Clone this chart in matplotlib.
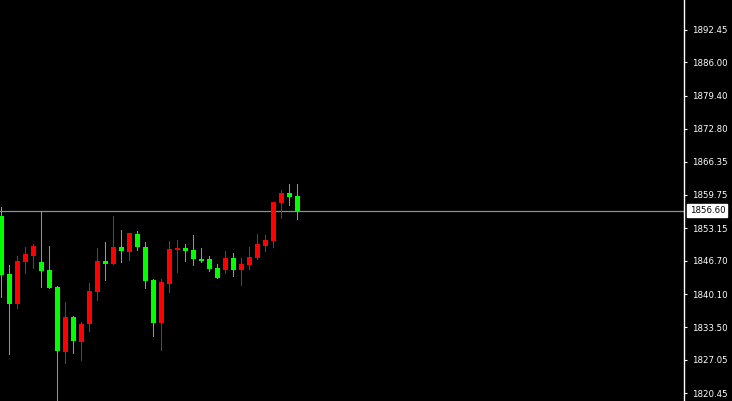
import matplotlib
matplotlib.use("Agg")
import matplotlib.pyplot as plt
import numpy as np

# candle data (oldest first)
opens = [1855.56, 1844.07, 1838.13, 1846.51, 1847.70, 1846.51, 1844.93, 1841.50,
         1828.63, 1835.56, 1830.61, 1834.17, 1840.51, 1846.65, 1846.05, 1849.42,
         1848.43, 1851.99, 1849.42, 1842.89, 1834.37, 1842.09, 1848.83, 1849.22,
         1848.83, 1847.04, 1847.04, 1845.26, 1844.87, 1847.18, 1844.87, 1845.86,
         1847.24, 1849.62, 1850.61, 1858.13, 1860.11, 1859.52]
highs = [1857.28, 1845.86, 1847.64, 1849.42, 1850.07, 1856.60, 1849.62, 1841.70,
         1838.53, 1835.76, 1834.57, 1842.29, 1849.22, 1850.41, 1855.56, 1852.79,
         1852.19, 1852.59, 1850.41, 1843.08, 1843.08, 1850.61, 1850.81, 1850.01,
         1851.80, 1849.22, 1847.64, 1846.05, 1848.63, 1848.23, 1847.24, 1849.42,
         1851.99, 1851.80, 1858.33, 1860.71, 1861.90, 1861.90]
lows = [1839.58, 1828.23, 1837.40, 1844.33, 1845.32, 1841.56, 1841.30, 1817.00,
        1826.45, 1828.43, 1827.04, 1832.79, 1838.93, 1842.89, 1846.05, 1846.45,
        1846.85, 1848.83, 1841.30, 1831.80, 1829.02, 1840.51, 1844.47, 1846.65,
        1845.86, 1846.45, 1844.67, 1843.28, 1844.27, 1843.68, 1841.90, 1845.06,
        1847.04, 1848.63, 1849.42, 1855.16, 1857.74, 1854.96]
closes = [1843.88, 1838.13, 1846.65, 1848.09, 1849.68, 1844.67, 1841.30, 1828.83,
          1835.56, 1830.81, 1834.17, 1840.71, 1846.65, 1846.05, 1849.42, 1848.63,
          1852.19, 1849.42, 1842.69, 1834.37, 1842.49, 1849.02, 1849.22, 1848.63,
          1847.04, 1846.65, 1845.06, 1843.28, 1847.24, 1844.87, 1846.05, 1847.44,
          1850.01, 1850.81, 1858.33, 1860.11, 1859.32, 1856.60]

price_ticks = [1892.45, 1886.00, 1879.40, 1872.80, 1866.35, 1859.75,
               1853.15, 1846.70, 1840.10, 1833.50, 1827.05, 1820.45]
last_price = 1856.60

fig = plt.figure(figsize=(7.32, 4.01), dpi=100, facecolor="black")
ax = fig.add_axes([0, 0, 684 / 732, 1])
ax.set_facecolor("black")

x = np.arange(len(opens))
o = np.array(opens)
c = np.array(closes)
up = c >= o
colors = np.where(up, "#ff0000", "#00ff00")

# current price line behind the candles
ax.axhline(last_price, color="#8392a3", linewidth=0.9, zorder=1)

ax.vlines(x, lows, highs, colors=colors, linewidth=0.72, antialiased=False, zorder=2)
body_low = np.minimum(o, c)
body_h = np.maximum(np.abs(c - o), 0.25)
ax.bar(x, body_h, bottom=body_low, width=0.62, color=colors, linewidth=0, zorder=3)

ax.set_xlim(-0.16, 85.34)
ax.set_ylim(1818.93, 1898.33)

ax.yaxis.tick_right()
ax.set_yticks(price_ticks)
ax.set_yticklabels([f"{p:.2f}" for p in price_ticks])
ax.tick_params(axis="y", colors="white", length=2.5, width=0.8, pad=3, labelsize=6.2)
ax.set_xticks([])

for side in ["top", "left", "bottom"]:
    ax.spines[side].set_visible(False)
ax.spines["right"].set_color("white")
ax.spines["right"].set_linewidth(1)

# price label on the axis
ax.annotate(f"{last_price:.2f}", xy=(1, last_price), xycoords=("axes fraction", "data"),
            xytext=(4, 0), textcoords="offset points", va="center", ha="left",
            fontsize=6.2, color="black", annotation_clip=False,
            bbox=dict(boxstyle="square,pad=0.25", fc="white", ec="white"))

fig.savefig("out.png", dpi=100, facecolor="black")
